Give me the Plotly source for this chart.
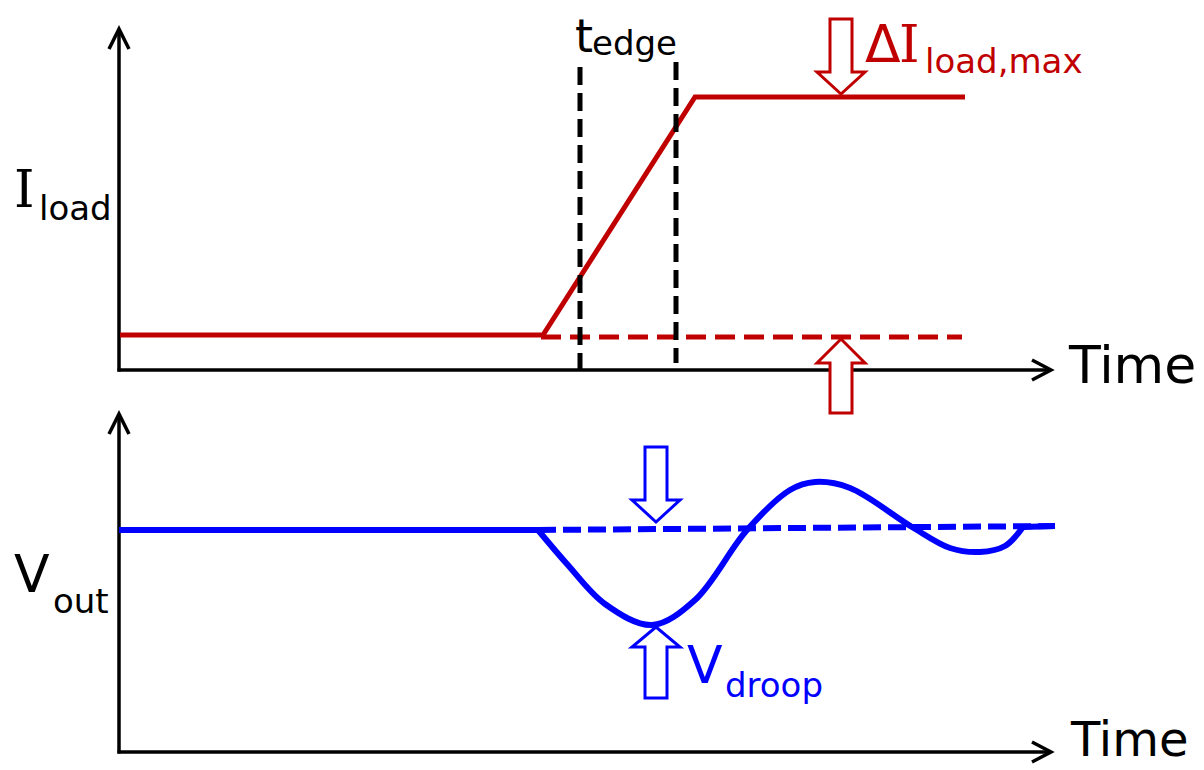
import plotly.graph_objects as go

W, H = 1204, 770
OFF = 8  # page body margin
RED = "#C00000"
BLUE = "#0000FF"
BLACK = "#000000"
FONT = "DejaVu Sans"
SERIF = "DejaVu Serif"

# ---- data (diagram units) ----
# load current step (top panel)
iload_t = [120, 543, 695, 965]
iload_v = [335, 335, 97, 97]
iload_base_t = [541, 962]
iload_base_v = [337, 337]
# t_edge markers
tedge_x = [580, 676]
tedge_top = [67, 62]
tedge_bot = [370, 363]

# output voltage (bottom panel)
vout_flat_t = [119, 538]
vout_flat_v = [530, 530]
vout_t = [538, 567, 605, 652, 695, 747, 790, 815, 850, 912, 950, 980, 1005, 1023]
vout_v = [530, 564, 604, 625, 600, 530, 490, 482, 488, 527, 548, 552, 546, 527]
vout_end_t = [1023, 1055]
vout_end_v = [527, 526]
vnom_t = [538, 1055]
vnom_v = [530, 526]

# axes (origin x, origin y, x end, y end)
axes_top = (119, 370, 1051, 29)
axes_bot = (119, 752, 1051, 414)

# hollow arrows: center x, tail y, head-base y, tip y
arrows = [
    (841, 19, 72, 94, RED),
    (841, 413, 363, 339, RED),
    (656, 447, 500, 522, BLUE),
    (656, 698, 647, 627, BLUE),
]

fig = go.Figure()

def line(x, y, color, width, dash=None, shape="linear"):
    fig.add_trace(go.Scatter(x=x, y=y, mode="lines", hoverinfo="skip",
                             line=dict(color=color, width=width, dash=dash, shape=shape,
                                       smoothing=1.0)))

# axes
shapes = []
for (x0, y0, x1, y1) in axes_top, axes_bot:
    line([x0, x0], [y0 + 1.5, y1 + 2], BLACK, 3.5)
    line([x0 - 1.5, x1 - 2], [y0, y0], BLACK, 3.5)
    shapes.append(dict(type="path", xref="x", yref="y",
                       path=f"M {x0-10},{y1+20} L {x0},{y1} L {x0+10},{y1+20}",
                       line=dict(color=BLACK, width=3.5)))
    shapes.append(dict(type="path", xref="x", yref="y",
                       path=f"M {x1-19},{y0-10} L {x1},{y0} L {x1-19},{y0+10}",
                       line=dict(color=BLACK, width=3.5)))

# top panel
line(iload_base_t, iload_base_v, RED, 5, dash="20px,9px")
line(iload_t, iload_v, RED, 5)
for x, a, b in zip(tedge_x, tedge_top, tedge_bot):
    line([x, x], [a, b], BLACK, 5, dash="18px,8px")

# bottom panel
line(vnom_t, vnom_v, BLUE, 6, dash="18px,7px")
line(vout_flat_t, vout_flat_v, BLUE, 6)
line(vout_t, vout_v, BLUE, 6, shape="spline")
line(vout_end_t, vout_end_v, BLUE, 6)

# hollow arrows
sw, hw = 11, 24
for cx, tail, base, tip, col in arrows:
    p = (f"M {cx-sw},{tail} L {cx+sw},{tail} L {cx+sw},{base} L {cx+hw},{base} "
         f"L {cx},{tip} L {cx-hw},{base} L {cx-sw},{base} Z")
    shapes.append(dict(type="path", xref="x", yref="y", path=p,
                       line=dict(color=col, width=3), fillcolor="white"))

# labels: (text, x left, y middle, size, color, family)
labels = [
    ("I", 12, 189, 52, BLACK, SERIF),
    ("load", 37, 208, 34, BLACK, FONT),
    ("V", 12, 574, 52, BLACK, FONT),
    ("out", 51, 601, 34, BLACK, FONT),
    ("t", 573, 36, 46, BLACK, FONT),
    ("edge", 590, 43, 34, BLACK, FONT),
    ("Δ", 863, 44, 52, RED, FONT),
    ("I", 897, 44, 52, RED, SERIF),
    ("load,max", 923, 61, 34, RED, FONT),
    ("V", 685, 665, 52, BLUE, FONT),
    ("droop", 723, 685, 34, BLUE, FONT),
    ("Time", 1066, 365, 52, BLACK, FONT),
    ("Time", 1068, 739, 48, BLACK, FONT),
]
annotations = [dict(text=t, x=x, y=y, xref="x", yref="y", xanchor="left", yanchor="middle",
                    showarrow=False, font=dict(family=f, size=s, color=c))
               for t, x, y, s, c, f in labels]

fig.update_layout(
    width=W - OFF, height=H - OFF, margin=dict(l=0, r=0, t=0, b=0),
    paper_bgcolor="white", plot_bgcolor="white", showlegend=False,
    xaxis=dict(range=[OFF, W], visible=False, fixedrange=True),
    yaxis=dict(range=[H, OFF], visible=False, fixedrange=True),
    shapes=shapes, annotations=annotations,
)
fig.write_html("out.html")
